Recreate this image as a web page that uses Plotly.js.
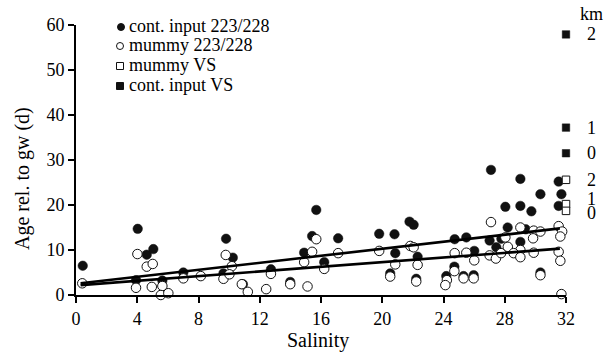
<!DOCTYPE html>
<html>
<head>
<meta charset="utf-8">
<script src="https://cdn.plot.ly/plotly-3.0.1.min.js"></script>
<style>html,body{margin:0;padding:0;background:#fff;}#chart{width:614px;height:352px;}</style>
</head>
<body>
<div id="chart"></div>
<script>
// cont. input 223/228 (filled circles)
const contX = [0.44,4.03,4.62,5.05,3.92,5.64,7.01,9.63,9.80,10.24,10.90,12.73,13.99,15.69,15.42,14.90,17.12,16.21,19.80,20.80,20.85,20.52,21.78,22.05,22.31,22.22,27.10,28.04,28.19,24.73,25.49,27.01,27.45,26.01,24.71,24.18,25.31,25.97,29.02,31.52,30.33,31.70,29.02,29.74,31.52,29.37,27.78,29.02,30.33];
const contY = [6.5,14.7,8.96,10.2,3.3,3.2,5.0,4.8,12.5,8.3,2.4,5.7,2.9,18.9,13.1,9.4,12.6,7.3,13.6,13.5,9.3,4.8,16.3,15.6,8.5,3.6,27.8,19.6,15.0,12.4,12.8,12.1,10.6,9.8,6.3,4.2,4.2,4.4,25.8,25.2,22.4,22.4,19.8,18.6,19.8,14.6,12.5,11.8,5.0];
// mummy 223/228 (open circles)
const mumX = [0.41,4.01,4.62,5.01,3.92,4.95,5.64,5.54,6.03,7.01,8.15,9.63,9.78,10.18,10.02,10.83,11.22,12.42,12.73,13.99,15.12,14.90,15.42,15.69,17.12,16.21,19.80,20.85,20.52,21.83,22.05,22.31,22.22,27.10,24.73,25.49,26.01,27.01,27.42,27.76,28.20,24.71,24.22,24.12,25.31,25.97,29.02,29.89,30.33,31.52,31.75,31.63,29.85,29.02,28.58,29.02,29.89,31.52,31.63,30.33,31.70,28.04];
const mumY = [2.6,9.1,6.3,6.9,1.6,1.8,2.0,0.0,0.4,3.7,4.2,3.6,8.9,6.4,4.6,2.4,0.7,1.3,4.7,2.4,1.9,7.3,9.6,12.4,9.3,5.8,9.8,6.8,4.1,10.9,10.6,6.7,3.0,16.2,9.3,9.4,7.7,8.8,8.1,9.3,10.7,5.3,3.3,2.2,3.7,3.7,15.0,14.3,14.1,15.3,14.1,13.0,12.6,10.0,9.3,8.4,9.4,9.6,7.6,4.4,0.2,12.8];
// VS squares
const mumVSX = [32,32,32];
const mumVSY = [25.6,20.2,18.7];
const contVSX = [32,32,32];
const contVSY = [57.9,37.2,31.5];
// km labels (distance of VS stations)
const kmLabels = ['km','2','1','0','2','1','0'];
const kmLabelY = [62.5,57.9,37.2,31.5,25.6,21.4,18.2];
// regression lines
const lineX = [0.3,31.6];
const lineContY = [2.6,14.8];
const lineMumY = [2.2,10.3];
// legend
const legendNames = ['cont. input 223/228','mummy 223/228','mummy VS','cont. input VS'];

const serif = '"Liberation Serif", "DejaVu Serif", "Times New Roman", Times, serif';
const traces = [
  {x: contX, y: contY, type:'scatter', mode:'markers', name: legendNames[0], cliponaxis:false,
   marker:{symbol:'circle', size:9.5, color:'#111', line:{color:'#111', width:0.5}}},
  {x: mumX, y: mumY, type:'scatter', mode:'markers', name: legendNames[1], cliponaxis:false,
   marker:{symbol:'circle', size:9.5, color:'#fff', line:{color:'#111', width:1}}},
  {x: mumVSX, y: mumVSY, type:'scatter', mode:'markers', name: legendNames[2], cliponaxis:false,
   marker:{symbol:'square', size:7.5, color:'#fff', line:{color:'#111', width:1}}},
  {x: contVSX, y: contVSY, type:'scatter', mode:'markers', name: legendNames[3], cliponaxis:false,
   marker:{symbol:'square', size:7.5, color:'#111', line:{color:'#111', width:0.5}}},
  {x: lineX, y: lineContY, type:'scatter', mode:'lines', line:{color:'#000', width:2.6}, showlegend:false},
  {x: lineX, y: lineMumY, type:'scatter', mode:'lines', line:{color:'#000', width:2.6}, showlegend:false}
];

const L = 76, T = 25, W = 490, H = 270;
const px = v => (v - L) / W;
const py = v => (T + H - v) / H;
const yPix = v => T + H - v * H / 60;

const annotations = [];
const shapes = [];
// legend items
const legIconX = [121, 120, 120, 120];
const legY = [26, 45, 65, 85];
const legSym = ['fc','oc','os','fs'];
for (let i = 0; i < legendNames.length; i++) {
  annotations.push({xref:'paper', yref:'paper', x: px(127), y: py(legY[i]), xanchor:'left', yanchor:'middle',
    text: legendNames[i], showarrow:false, font:{family:serif, size:18, color:'#000'}});
  const s = legSym[i];
  shapes.push({type: s[1]==='c' ? 'circle' : 'rect', xref:'paper', yref:'paper',
    xsizemode:'pixel', ysizemode:'pixel', xanchor: px(legIconX[i]), yanchor: py(legY[i] + 1),
    x0: -3.5, x1: 3.5, y0: -3.5, y1: 3.5,
    fillcolor: s[0]==='f' ? '#111' : '#fff', line:{color:'#111', width:1}});
}
for (let i = 0; i < kmLabels.length; i++) {
  annotations.push({xref:'paper', yref:'paper', x: px(566 + 25), y: py(yPix(kmLabelY[i])), text: kmLabels[i], showarrow:false,
    xanchor:'center', yanchor:'middle', font:{family:serif, size:18, color:'#000'}});
}
annotations.push({xref:'paper', yref:'paper', x: px(22), y: py(179), text:'Age rel. to gw (d)', textangle:-90,
  showarrow:false, xanchor:'center', yanchor:'middle', font:{family:serif, size:20, color:'#000'}});
annotations.push({xref:'paper', yref:'paper', x: px(318), y: py(340), text:'Salinity',
  showarrow:false, xanchor:'center', yanchor:'middle', font:{family:serif, size:20, color:'#000'}});

const axisCommon = {showline:true, linewidth:2, linecolor:'#000', ticks:'outside', ticklen:6, tickwidth:2,
  tickcolor:'#000', showgrid:false, zeroline:false, tickfont:{family:serif, size:18, color:'#000'}, fixedrange:true};

const layout = {
  width:614, height:352, showlegend:false,
  font:{family:serif},
  margin:{l:L, r:614-L-W, t:T, b:352-T-H, pad:0},
  paper_bgcolor:'#fff', plot_bgcolor:'#fff',
  xaxis: Object.assign({}, axisCommon, {range:[0,32], tick0:0, dtick:4}),
  yaxis: Object.assign({}, axisCommon, {range:[0,60], tick0:0, dtick:10}),
  annotations: annotations, shapes: shapes
};
Plotly.newPlot('chart', traces, layout, {staticPlot:true, displayModeBar:false});
</script>
</body>
</html>
